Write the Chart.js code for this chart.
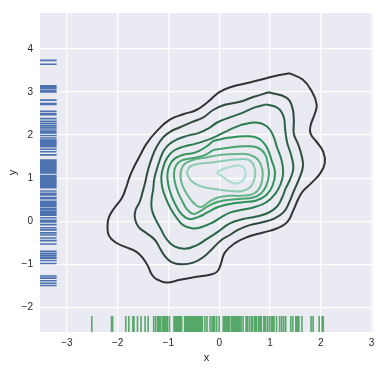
<!DOCTYPE html>
<html>
<head>
<meta charset="utf-8">
<script src="https://cdn.jsdelivr.net/npm/chart.js@4/dist/chart.umd.min.js"></script>
<style>
  html, body { margin: 0; padding: 0; background: #ffffff; }
  #wrap { width: 381px; height: 370px; }
</style>
</head>
<body>
<div id="wrap"><canvas id="c" width="381" height="370"></canvas></div>
<script>
// ---------------- data ----------------
const xTicks = [-3, -2, -1, 0, 1, 2, 3];
const yTicks = [-2, -1, 0, 1, 2, 3, 4];
const xLimits = [-3.53, 3.03];
const yLimits = [-2.57, 4.83];

// rug samples
const xRug = [-2.51, -2.12, -2.10, -1.84, -1.78, -1.70, -1.68, -1.61, -1.54, -1.46, -1.40,
  -1.29, -1.25, -1.21, -1.18, -1.15, -1.11, -1.08, -1.05, -1.02, -0.98,
  -0.89, -0.86, -0.83, -0.80, -0.77, -0.74, -0.68, -0.65, -0.62, -0.60, -0.57, -0.54,
  -0.51, -0.48, -0.45, -0.42, -0.39, -0.36, -0.33, -0.28, -0.24, -0.18, -0.14, -0.12,
  -0.09, -0.05, 0.00, 0.08, 0.11, 0.14, 0.17, 0.20, 0.24, 0.27, 0.30, 0.32, 0.34, 0.37,
  0.40, 0.43, 0.47, 0.53, 0.56, 0.60, 0.64, 0.66, 0.70, 0.73, 0.77, 0.80, 0.83, 0.88,
  0.91, 0.95, 0.99, 1.03, 1.06, 1.08, 1.13, 1.19, 1.23, 1.27, 1.31, 1.41, 1.45, 1.51,
  1.54, 1.57, 1.63, 1.81, 1.85, 1.97, 2.03, 2.05];
const yRug = [3.73, 3.64, 3.14, 3.11, 3.08, 3.03, 3.00, 2.81, 2.73, 2.71, 2.55, 2.50, 2.47,
  2.38, 2.32, 2.27, 2.22, 2.18, 2.14, 2.09, 2.05, 1.99, 1.93, 1.88, 1.84, 1.80, 1.77, 1.73,
  1.67, 1.61, 1.54, 1.42, 1.39, 1.36, 1.33, 1.30, 1.27, 1.24, 1.21, 1.18, 1.15, 1.12, 1.06,
  1.03, 1.00, 0.97, 0.94, 0.91, 0.88, 0.85, 0.82, 0.78, 0.70, 0.65, 0.61, 0.55, 0.52, 0.46,
  0.42, 0.38, 0.35, 0.30, 0.27, 0.23, 0.20, 0.17, 0.14, 0.08, 0.02, -0.02, -0.08, -0.15,
  -0.20, -0.27, -0.32, -0.39, -0.45, -0.53, -0.70, -0.75, -0.79, -0.83, -0.86, -0.91, -0.98,
  -1.27, -1.32, -1.38, -1.44, -1.49];

// density contours, outermost (lowest level) to innermost (highest level)
const contour1 = [[1.39,3.43],[1.65,3.28],[1.82,3.02],[1.92,2.71],[1.88,2.48],[1.80,2.22],[1.80,2.03],[1.92,1.84],[2.05,1.61],[2.08,1.35],[1.99,1.11],[1.82,0.89],[1.65,0.70],[1.56,0.52],[1.46,0.25],[1.34,-0.02],[1.13,-0.17],[0.87,-0.26],[0.57,-0.36],[0.31,-0.51],[0.11,-0.73],[0.03,-1.00],[-0.04,-1.17],[-0.18,-1.24],[-0.45,-1.29],[-0.77,-1.36],[-1.04,-1.42],[-1.23,-1.35],[-1.33,-1.23],[-1.40,-1.05],[-1.50,-0.86],[-1.63,-0.71],[-1.84,-0.60],[-2.03,-0.50],[-2.17,-0.34],[-2.20,-0.11],[-2.17,0.10],[-2.05,0.33],[-1.92,0.53],[-1.84,0.76],[-1.77,1.01],[-1.69,1.23],[-1.57,1.50],[-1.43,1.80],[-1.23,2.09],[-0.98,2.35],[-0.71,2.48],[-0.45,2.58],[-0.22,2.77],[0.01,3.00],[0.28,3.13],[0.54,3.20],[0.87,3.30],[1.19,3.39]];
const contour2 = [[0.98,2.99],[1.33,2.86],[1.44,2.64],[1.47,2.33],[1.47,2.03],[1.55,1.80],[1.62,1.54],[1.65,1.27],[1.57,0.97],[1.47,0.70],[1.38,0.44],[1.27,0.21],[1.08,0.06],[0.87,-0.02],[0.60,-0.09],[0.37,-0.20],[0.21,-0.32],[0.05,-0.43],[-0.12,-0.62],[-0.31,-0.83],[-0.51,-0.96],[-0.74,-1.00],[-0.94,-0.95],[-1.07,-0.81],[-1.17,-0.62],[-1.27,-0.43],[-1.43,-0.28],[-1.59,-0.13],[-1.66,0.06],[-1.65,0.25],[-1.57,0.44],[-1.51,0.67],[-1.46,0.89],[-1.40,1.20],[-1.33,1.46],[-1.23,1.73],[-1.10,1.95],[-0.96,2.08],[-0.77,2.18],[-0.54,2.30],[-0.31,2.41],[-0.12,2.58],[0.11,2.70],[0.41,2.77],[0.67,2.88]];
const contour3 = [[0.93,2.71],[1.16,2.62],[1.27,2.42],[1.30,2.12],[1.34,1.82],[1.42,1.52],[1.46,1.23],[1.40,0.98],[1.31,0.76],[1.23,0.52],[1.13,0.33],[0.96,0.19],[0.73,0.11],[0.47,0.05],[0.21,-0.05],[-0.02,-0.24],[-0.24,-0.41],[-0.45,-0.56],[-0.68,-0.64],[-0.89,-0.58],[-1.04,-0.41],[-1.15,-0.18],[-1.26,0.06],[-1.33,0.29],[-1.33,0.52],[-1.30,0.74],[-1.28,0.97],[-1.23,1.20],[-1.17,1.42],[-1.09,1.64],[-0.98,1.79],[-0.83,1.90],[-0.63,1.98],[-0.40,2.05],[-0.20,2.16],[-0.04,2.29],[0.21,2.41],[0.47,2.52],[0.70,2.64]];
const contour4 = [[0.44,2.24],[0.73,2.29],[0.93,2.21],[1.05,2.02],[1.14,1.71],[1.23,1.41],[1.26,1.12],[1.21,0.86],[1.10,0.63],[0.93,0.44],[0.70,0.33],[0.47,0.27],[0.24,0.21],[0.05,0.10],[-0.13,-0.03],[-0.33,-0.13],[-0.52,-0.17],[-0.71,-0.09],[-0.84,0.08],[-0.96,0.30],[-1.05,0.53],[-1.12,0.78],[-1.14,1.03],[-1.10,1.26],[-1.02,1.48],[-0.89,1.64],[-0.70,1.73],[-0.46,1.80],[-0.24,1.88],[-0.04,1.98],[0.20,2.12]];
const contour5 = [[-0.12,1.86],[0.21,1.94],[0.54,1.97],[0.77,1.92],[0.93,1.73],[1.03,1.42],[1.10,1.12],[1.05,0.82],[0.93,0.61],[0.73,0.48],[0.47,0.44],[0.21,0.40],[-0.02,0.33],[-0.22,0.21],[-0.41,0.10],[-0.59,0.05],[-0.74,0.16],[-0.85,0.36],[-0.94,0.59],[-1.00,0.83],[-1.02,1.08],[-0.98,1.29],[-0.89,1.44],[-0.71,1.54],[-0.48,1.59],[-0.28,1.71]];
const contour6 = [[-0.12,1.65],[0.21,1.71],[0.51,1.74],[0.75,1.71],[0.90,1.56],[0.96,1.31],[0.98,1.08],[0.93,0.83],[0.83,0.65],[0.67,0.55],[0.44,0.52],[0.21,0.50],[-0.02,0.45],[-0.22,0.35],[-0.38,0.23],[-0.51,0.17],[-0.63,0.27],[-0.72,0.45],[-0.81,0.67],[-0.87,0.89],[-0.89,1.11],[-0.85,1.29],[-0.74,1.41],[-0.54,1.46],[-0.31,1.52]];
const contour7 = [[-0.25,1.48],[0.05,1.54],[0.34,1.56],[0.60,1.54],[0.77,1.42],[0.85,1.20],[0.85,0.97],[0.79,0.76],[0.66,0.63],[0.44,0.59],[0.21,0.59],[-0.02,0.55],[-0.20,0.45],[-0.36,0.33],[-0.48,0.40],[-0.59,0.55],[-0.69,0.74],[-0.75,0.93],[-0.76,1.12],[-0.71,1.29],[-0.59,1.39],[-0.45,1.44]];
const contour8 = [[-0.64,1.11],[-0.58,1.26],[-0.41,1.33],[-0.15,1.36],[0.14,1.41],[0.41,1.44],[0.60,1.41],[0.70,1.23],[0.70,1.01],[0.62,0.80],[0.46,0.70],[0.24,0.70],[0.01,0.73],[-0.22,0.77],[-0.41,0.83],[-0.56,0.95]];
const contour9 = [[-0.05,1.12],[0.05,1.20],[0.21,1.26],[0.37,1.29],[0.47,1.26],[0.52,1.14],[0.49,0.98],[0.39,0.89],[0.28,0.88],[0.16,0.95],[0.05,1.05]];

// ---------------- styling ----------------
const contours = [contour1, contour2, contour3, contour4, contour5, contour6, contour7, contour8, contour9];
const contourColors = ['#333333', '#2f4a3b', '#2a6446', '#2b7d4f', '#2e9158', '#45a36c', '#66b68a', '#8ccbb1', '#aadcce'];
const RUG_FRAC = 0.05;
const FONT = "'Liberation Sans', Arial, 'DejaVu Sans', sans-serif";
const TEXT = '#262626';
const minus = v => (v < 0 ? '\u2212' + Math.abs(v) : String(v));

const datasets = [];
contours.forEach((pts, i) => {
  const data = pts.map(p => ({ x: p[0], y: p[1] }));
  data.push({ x: pts[0][0], y: pts[0][1] });
  datasets.push({
    data, showLine: true, borderColor: contourColors[i], borderWidth: 2,
    pointRadius: 0, tension: 0.45, fill: false
  });
});

const xRugTop = yLimits[0] + RUG_FRAC * (yLimits[1] - yLimits[0]);
const xRugData = [];
xRug.forEach(v => { xRugData.push({ x: v, y: yLimits[0] }, { x: v, y: xRugTop }, { x: v, y: null }); });
datasets.push({ data: xRugData, showLine: true, borderColor: '#55A868', borderWidth: 1.6, pointRadius: 0, tension: 0, spanGaps: false });

const yRugRight = xLimits[0] + RUG_FRAC * (xLimits[1] - xLimits[0]);
const yRugData = [];
yRug.forEach(v => { yRugData.push({ x: xLimits[0], y: v }, { x: yRugRight, y: v }, { x: null, y: v }); });
datasets.push({ data: yRugData, showLine: true, borderColor: '#4C72B0', borderWidth: 1.6, pointRadius: 0, tension: 0, spanGaps: false });

const bgPlugin = {
  id: 'bg',
  beforeDraw(chart) {
    const { ctx, chartArea: a } = chart;
    ctx.save();
    ctx.fillStyle = '#EAEAF2';
    ctx.fillRect(a.left, a.top, a.right - a.left, a.bottom - a.top);
    ctx.restore();
  }
};

new Chart(document.getElementById('c'), {
  type: 'scatter',
  data: { datasets },
  plugins: [bgPlugin],
  options: {
    responsive: false,
    devicePixelRatio: 1,
    animation: false,
    layout: { padding: { top: 7, right: 8, left: 0, bottom: 0 } },
    plugins: { legend: { display: false }, tooltip: { enabled: false } },
    scales: {
      x: {
        type: 'linear', min: xLimits[0], max: xLimits[1],
        afterBuildTicks: s => { s.ticks = xTicks.map(v => ({ value: v })); },
        afterFit: s => { s.height = 38; },
        grid: { color: '#ffffff', lineWidth: 1.2, drawTicks: false },
        border: { display: false },
        ticks: { color: TEXT, font: { family: FONT, size: 10 }, padding: 5, callback: v => minus(v), maxRotation: 0 },
        title: { display: true, text: 'x', color: TEXT, font: { family: FONT, size: 11 }, padding: { top: 0, bottom: 5 } }
      },
      y: {
        type: 'linear', min: yLimits[0], max: yLimits[1],
        afterBuildTicks: s => { s.ticks = yTicks.map(v => ({ value: v })); },
        afterFit: s => { s.width = 40; },
        grid: { color: '#ffffff', lineWidth: 1.2, drawTicks: false },
        border: { display: false },
        ticks: { color: TEXT, font: { family: FONT, size: 10 }, padding: 7, callback: v => minus(v) },
        title: { display: true, text: 'y', color: TEXT, font: { family: FONT, size: 11 }, padding: { top: 6, bottom: 0 } }
      }
    }
  }
});
</script>
</body>
</html>
